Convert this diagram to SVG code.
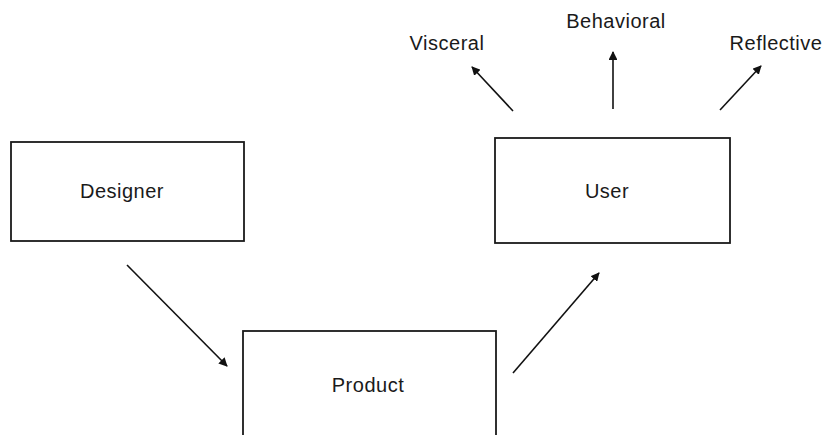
<svg xmlns="http://www.w3.org/2000/svg" width="825" height="435" viewBox="0 0 825 435">
  <style>
    .box { fill: #ffffff; stroke: #1a1a1a; stroke-width: 1.8; }
    .label { font-family: "Liberation Sans", Arial, sans-serif; font-size: 20px; fill: #1a1a1a; text-anchor: middle; letter-spacing: 0.5px; }
    .edge { stroke: #111111; stroke-width: 1.6; fill: none; marker-end: url(#head); }
  </style>
  <defs>
    <marker id="head" viewBox="0 0 10 10" refX="9" refY="5" markerWidth="5.5" markerHeight="5.5" orient="auto" markerUnits="strokeWidth">
      <path d="M0,0 L10,5 L0,10 Z" fill="#111111"/>
    </marker>
  </defs>
  <rect width="825" height="435" fill="#ffffff"/>

  <g id="designer">
    <rect class="box" x="11" y="142" width="233" height="99"/>
    <text class="label" x="122" y="198">Designer</text>
  </g>

  <g id="user">
    <rect class="box" x="495" y="138" width="235" height="105"/>
    <text class="label" x="607" y="198">User</text>
  </g>

  <g id="product">
    <rect class="box" x="243" y="331" width="253" height="120"/>
    <text class="label" x="368" y="392">Product</text>
  </g>

  <g id="visceral">
    <text class="label" x="447" y="50">Visceral</text>
  </g>
  <g id="behavioral">
    <text class="label" x="616" y="28">Behavioral</text>
  </g>
  <g id="reflective">
    <text class="label" x="776" y="50">Reflective</text>
  </g>

  <g id="connectors">
    <line class="edge" x1="127" y1="265" x2="227" y2="366"/>
    <line class="edge" x1="513" y1="373" x2="599" y2="273"/>
    <line class="edge" x1="513" y1="111" x2="472" y2="67"/>
    <line class="edge" x1="613" y1="109" x2="613" y2="52"/>
    <line class="edge" x1="720" y1="110" x2="761" y2="66"/>
  </g>
</svg>
